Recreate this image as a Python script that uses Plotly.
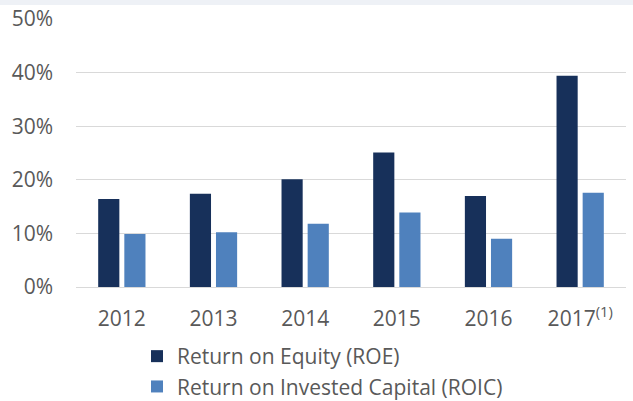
import plotly.graph_objects as go

years = ["2012", "2013", "2014", "2015", "2016", "2017"]
tick_labels = ["2012", "2013", "2014", "2015", "2016", "2017<sup>(1)</sup>"]
roe = [0.164, 0.174, 0.201, 0.251, 0.170, 0.394]
roic = [0.099, 0.102, 0.118, 0.139, 0.090, 0.176]

navy = "#17305A"
blue = "#4F81BD"
grey = "#595959"
font = "Open Sans"

fig = go.Figure()
fig.add_trace(go.Bar(x=years, y=roe, name="Return on Equity (ROE)",
                     marker=dict(color=navy, line=dict(width=0))))
fig.add_trace(go.Bar(x=years, y=roic, name="Return on Invested Capital (ROIC)",
                     marker=dict(color=blue, line=dict(width=0))))

fig.update_layout(
    width=633, height=401,
    margin=dict(l=76, r=7, t=19, b=114, autoexpand=False),
    paper_bgcolor="white", plot_bgcolor="white",
    barmode="group", bargap=0.43, bargroupgap=0.19,
    font=dict(family=font, size=21, color=grey),
    showlegend=True,
    legend=dict(orientation="v", xref="container", yref="container",
                x=(137 / 633), xanchor="left", y=1 - 336 / 401, yanchor="top",
                font=dict(family=font, size=21, color=grey),
                itemwidth=30, tracegroupgap=0, bgcolor="rgba(0,0,0,0)"),
    xaxis=dict(tickmode="array", tickvals=years, ticktext=tick_labels,
               showgrid=False, showline=False, ticks="", ticklabelstandoff=17,
               automargin=False,
               tickfont=dict(family=font, size=21, color=grey)),
    yaxis=dict(range=[0, 0.5], tickvals=[0, 0.1, 0.2, 0.3, 0.4, 0.5], tickformat=".0%",
               showgrid=True, gridcolor="#D9D9D9", gridwidth=1,
               zeroline=True, zerolinecolor="#D9D9D9", zerolinewidth=1,
               showline=False, ticks="", ticklabelstandoff=22, automargin=False,
               tickfont=dict(family=font, size=21, color=grey)),
    shapes=[dict(type="rect", xref="paper", yref="paper", x0=-0.2, x1=1.02,
                 y0=1 + 14 / 268, y1=1 + 19 / 268, fillcolor="#EEF1F6",
                 line=dict(width=0), layer="below")],
)

fig.write_html("out.html", config={"displayModeBar": False},
               post_script="document.body.style.margin='0';document.body.style.overflow='hidden';")
